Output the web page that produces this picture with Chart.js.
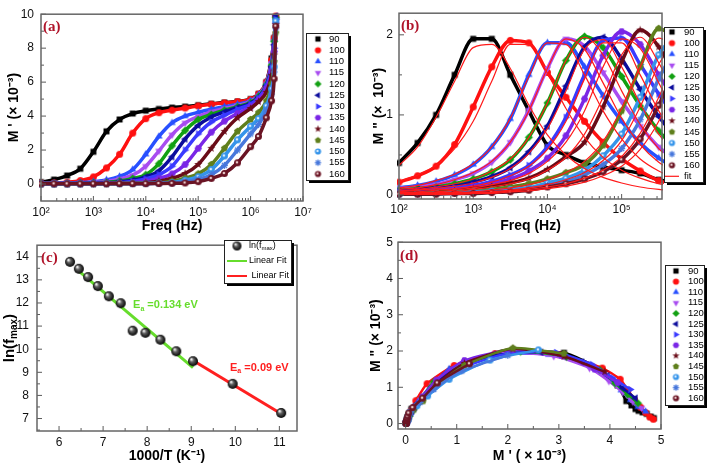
<!DOCTYPE html>
<html>
<head>
<meta charset="utf-8">
<script src="https://cdn.jsdelivr.net/npm/chart.js@4.4.1/dist/chart.umd.min.js"></script>
<style>
  html, body { margin: 0; background: #fff; }
  #fig { position: relative; width: 709px; height: 465px; overflow: hidden; }
  canvas { position: absolute; }
</style>
</head>
<body>
<div id="fig">
  <canvas id="ca" width="355" height="240" style="left:0;top:0"></canvas>
  <canvas id="cb" width="354" height="240" style="left:355px;top:0"></canvas>
  <canvas id="cc" width="355" height="235" style="left:0;top:230px"></canvas>
  <canvas id="cd" width="354" height="235" style="left:355px;top:230px"></canvas>
</div>
<script>
const FONT = '"Liberation Sans", Arial, sans-serif';

// temperatures (legend labels)
const temps = ['90', '100', '110', '115', '120', '125', '130', '135', '140', '145', '150', '155', '160'];

// measuring frequencies (Hz)
const freqs = [100, 178, 316, 562, 1000, 1778, 3162, 5623, 10000, 17783, 31623, 56234,
  100000, 177828, 316228, 562341, 1000000, 1412538, 1995262, 2511886, 2818383, 3019952];

// M' (x10^-3), one value per frequency
const mp90  = [0.11, 0.26, 0.5, 0.9, 1.9, 3.1, 3.8, 4.15, 4.32, 4.42, 4.5, 4.56, 4.64, 4.72, 4.8, 4.86, 5.0, 5.3, 6.0, 7.4, 8.6, 9.8];
const mp100 = [0.05, 0.07, 0.11, 0.2, 0.42, 0.95, 1.75, 3.0, 3.85, 4.2, 4.35, 4.48, 4.6, 4.7, 4.78, 4.85, 4.98, 5.3, 6.0, 7.3, 8.6, 9.9];
const mp110 = [0.04, 0.05, 0.06, 0.09, 0.14, 0.24, 0.45, 0.85, 1.75, 2.8, 3.6, 4.0, 4.22, 4.4, 4.55, 4.7, 4.9, 5.25, 5.95, 7.2, 8.5, 9.8];
const mp115 = [0.03, 0.04, 0.05, 0.07, 0.1, 0.17, 0.3, 0.52, 1.05, 1.95, 2.9, 3.6, 3.98, 4.25, 4.45, 4.62, 4.85, 5.2, 5.9, 7.1, 8.4, 9.7];
const mp120 = [0.03, 0.03, 0.04, 0.05, 0.07, 0.1, 0.18, 0.33, 0.55, 1.2, 2.25, 3.15, 3.8, 4.1, 4.35, 4.55, 4.8, 5.15, 5.85, 7.0, 8.4, 9.8];
const mp125 = [0.02, 0.03, 0.03, 0.04, 0.05, 0.07, 0.12, 0.22, 0.42, 0.78, 1.6, 2.65, 3.45, 3.95, 4.25, 4.5, 4.75, 5.1, 5.8, 6.9, 8.2, 9.9];
const mp130 = [0.02, 0.02, 0.03, 0.03, 0.04, 0.05, 0.08, 0.15, 0.3, 0.55, 1.05, 2.0, 2.95, 3.65, 4.05, 4.4, 4.7, 5.05, 5.75, 6.8, 8.0, 9.7];
const mp135 = [0.02, 0.02, 0.02, 0.03, 0.03, 0.04, 0.05, 0.08, 0.17, 0.33, 0.6, 1.15, 2.1, 3.05, 3.7, 4.15, 4.55, 4.95, 5.6, 6.6, 7.8, 9.5];
const mp140 = [0.01, 0.01, 0.02, 0.02, 0.02, 0.03, 0.04, 0.05, 0.08, 0.17, 0.34, 0.62, 1.15, 2.1, 3.1, 3.9, 4.45, 4.85, 5.4, 6.4, 7.6, 9.4];
const mp145 = [0.01, 0.01, 0.01, 0.02, 0.02, 0.02, 0.03, 0.03, 0.04, 0.06, 0.16, 0.34, 0.6, 1.15, 2.1, 3.1, 3.8, 4.2, 4.9, 5.9, 7.2, 8.9];
const mp150 = [0.01, 0.01, 0.01, 0.01, 0.02, 0.02, 0.02, 0.03, 0.03, 0.05, 0.08, 0.22, 0.43, 0.85, 1.65, 2.6, 3.4, 3.85, 4.6, 5.6, 6.9, 9.6];
const mp155 = [0.01, 0.01, 0.01, 0.01, 0.01, 0.02, 0.02, 0.02, 0.03, 0.04, 0.06, 0.12, 0.28, 0.55, 1.1, 2.0, 2.95, 3.5, 4.3, 5.3, 6.6, 9.2];
const mp160 = [0.01, 0.01, 0.01, 0.01, 0.01, 0.01, 0.02, 0.02, 0.02, 0.03, 0.04, 0.06, 0.14, 0.33, 0.62, 1.25, 2.2, 2.8, 3.9, 4.9, 6.2, 9.3];

// M'' (x10^-3), first 16 frequencies (up to 5.6e5 Hz)
const mpp90  = [0.40, 0.65, 1.0, 1.5, 1.95, 1.95, 1.5, 1.05, 0.62, 0.5, 0.4, 0.35, 0.31, 0.27, 0.19, 0.15];
const mpp100 = [0.16, 0.24, 0.36, 0.63, 1.1, 1.6, 1.93, 1.9, 1.53, 1.22, 0.92, 0.66, 0.45, 0.3, 0.18, 0.12];
const mpp110 = [0.09, 0.12, 0.17, 0.25, 0.38, 0.6, 0.95, 1.5, 1.9, 1.9, 1.6, 1.24, 0.92, 0.65, 0.46, 0.33];
const mpp115 = [0.08, 0.1, 0.13, 0.19, 0.27, 0.41, 0.66, 1.06, 1.58, 1.95, 1.86, 1.53, 1.17, 0.86, 0.6, 0.43];
const mpp120 = [0.06, 0.08, 0.1, 0.14, 0.2, 0.29, 0.44, 0.72, 1.15, 1.68, 1.98, 1.84, 1.48, 1.11, 0.8, 0.56];
const mpp125 = [0.05, 0.07, 0.09, 0.11, 0.16, 0.23, 0.34, 0.54, 0.86, 1.36, 1.85, 1.97, 1.7, 1.32, 0.98, 0.7];
const mpp130 = [0.04, 0.05, 0.07, 0.09, 0.12, 0.17, 0.25, 0.37, 0.6, 0.97, 1.5, 1.93, 1.96, 1.63, 1.26, 0.94];
const mpp135 = [0.03, 0.04, 0.06, 0.07, 0.1, 0.14, 0.2, 0.3, 0.46, 0.74, 1.2, 1.74, 2.04, 1.88, 1.5, 1.13];
const mpp140 = [0.02, 0.03, 0.04, 0.05, 0.08, 0.11, 0.15, 0.21, 0.32, 0.48, 0.66, 1.1, 1.66, 2.06, 1.85, 1.43];
const mpp145 = [0.02, 0.02, 0.03, 0.04, 0.05, 0.07, 0.1, 0.14, 0.2, 0.28, 0.38, 0.62, 1.05, 1.6, 2.08, 1.93];
const mpp150 = [0.01, 0.02, 0.02, 0.03, 0.04, 0.05, 0.07, 0.09, 0.15, 0.21, 0.31, 0.49, 0.76, 1.22, 1.75, 2.03];
const mpp155 = [0.01, 0.01, 0.02, 0.02, 0.03, 0.04, 0.05, 0.08, 0.12, 0.17, 0.25, 0.38, 0.58, 0.94, 1.45, 1.88];
const mpp160 = [0.01, 0.01, 0.01, 0.02, 0.02, 0.03, 0.04, 0.06, 0.1, 0.14, 0.2, 0.29, 0.44, 0.7, 1.12, 1.65];

// fitted M'' curves, same 16 frequencies
const fit90  = [0.37, 0.6, 0.97, 1.42, 1.84, 1.88, 1.58, 1.12, 0.75, 0.5, 0.33, 0.22, 0.15, 0.1, 0.07, 0.05];
const fit100 = [0.17, 0.25, 0.37, 0.58, 0.92, 1.42, 1.88, 1.88, 1.52, 1.08, 0.72, 0.47, 0.31, 0.21, 0.14, 0.1];
const fit110 = [0.09, 0.12, 0.18, 0.26, 0.39, 0.6, 0.96, 1.48, 1.9, 1.88, 1.5, 1.05, 0.7, 0.45, 0.3, 0.2];
const fit115 = [0.07, 0.09, 0.13, 0.19, 0.28, 0.42, 0.66, 1.05, 1.58, 1.95, 1.82, 1.4, 0.96, 0.63, 0.41, 0.27];
const fit120 = [0.05, 0.07, 0.1, 0.14, 0.2, 0.3, 0.45, 0.72, 1.15, 1.68, 1.97, 1.75, 1.3, 0.88, 0.58, 0.38];
const fit125 = [0.04, 0.06, 0.08, 0.11, 0.15, 0.22, 0.33, 0.52, 0.83, 1.3, 1.82, 1.94, 1.6, 1.14, 0.76, 0.5];
const fit130 = [0.03, 0.04, 0.06, 0.08, 0.11, 0.16, 0.24, 0.36, 0.57, 0.92, 1.45, 1.9, 1.9, 1.5, 1.05, 0.7];
const fit135 = [0.02, 0.03, 0.04, 0.06, 0.09, 0.13, 0.18, 0.27, 0.42, 0.66, 1.05, 1.6, 1.95, 1.83, 1.4, 0.96];
const fit140 = [0.02, 0.02, 0.03, 0.04, 0.07, 0.1, 0.14, 0.2, 0.31, 0.47, 0.76, 1.22, 1.75, 1.97, 1.65, 1.2];
const fit145 = [0.01, 0.01, 0.02, 0.03, 0.04, 0.06, 0.09, 0.13, 0.19, 0.28, 0.42, 0.67, 1.08, 1.6, 1.96, 1.82];
const fit150 = [0.01, 0.01, 0.01, 0.02, 0.03, 0.04, 0.06, 0.09, 0.13, 0.19, 0.28, 0.43, 0.68, 1.1, 1.63, 1.96];
const fit155 = [0.01, 0.01, 0.01, 0.01, 0.02, 0.03, 0.05, 0.07, 0.1, 0.14, 0.21, 0.31, 0.48, 0.77, 1.22, 1.75];
const fit160 = [0.01, 0.01, 0.01, 0.01, 0.02, 0.02, 0.04, 0.05, 0.08, 0.11, 0.16, 0.24, 0.36, 0.57, 0.92, 1.45];

// panel (c): relaxation peak positions
const invT   = [6.25, 6.45, 6.66, 6.88, 7.13, 7.4, 7.67, 7.96, 8.3, 8.66, 9.04, 9.94, 11.04];
const lnFmax = [13.78, 13.48, 13.12, 12.73, 12.29, 11.99, 10.8, 10.71, 10.41, 9.91, 9.48, 8.5, 7.24];
const fitHighX = [6.43, 9.04];
const fitHighY = [13.41, 9.2];
const fitLowX  = [9.04, 11.04];
const fitLowY  = [9.51, 7.21];

// tick values and labels
const freqTicksA = [1e2, 1e3, 1e4, 1e5, 1e6, 1e7];
const freqLabelsA = ['10²', '10³', '10⁴', '10⁵', '10⁶', '10⁷'];
const freqTicksB = [1e2, 1e3, 1e4, 1e5];
const freqLabelsB = ['10²', '10³', '10⁴', '10⁵'];
const yTicksA = [0, 2, 4, 6, 8, 10];
const yTicksB = [0, 1, 2];
const xTicksC = [6, 7, 8, 9, 10, 11];
const yTicksC = [7, 8, 9, 10, 11, 12, 13, 14];
const ticksD = [0, 1, 2, 3, 4, 5];

const mpAll  = [mp90, mp100, mp110, mp115, mp120, mp125, mp130, mp135, mp140, mp145, mp150, mp155, mp160];
const mppAll = [mpp90, mpp100, mpp110, mpp115, mpp120, mpp125, mpp130, mpp135, mpp140, mpp145, mpp150, mpp155, mpp160];
const fitAll = [fit90, fit100, fit110, fit115, fit120, fit125, fit130, fit135, fit140, fit145, fit150, fit155, fit160];

const seriesStyle = [
  { color: '#000000', shape: 'square' },
  { color: '#ff1010', shape: 'circle' },
  { color: '#2850ff', shape: 'triUp' },
  { color: '#a84cf0', shape: 'triDown' },
  { color: '#12a012', shape: 'diamond' },
  { color: '#0c0c9c', shape: 'triLeft' },
  { color: '#3a3aff', shape: 'triRight' },
  { color: '#7a26e6', shape: 'hex' },
  { color: '#6a0c18', shape: 'star' },
  { color: '#5f7f1c', shape: 'pentagon' },
  { color: '#3594ea', shape: 'ring' },
  { color: '#4878dc', shape: 'asterisk' },
  { color: '#6a1424', shape: 'ringDark' }
];

// ---------- marker images ----------
function drawMarker(ctx, shape, color, x, y, r) {
  ctx.save();
  ctx.fillStyle = color;
  ctx.strokeStyle = color;
  const poly = (pts) => {
    ctx.beginPath();
    pts.forEach(([px, py], i) => i ? ctx.lineTo(x + px, y + py) : ctx.moveTo(x + px, y + py));
    ctx.closePath();
    ctx.fill();
  };
  const ngon = (n, rot, rad) => {
    const p = [];
    for (let i = 0; i < n; i++) {
      const a = rot + i * 2 * Math.PI / n;
      p.push([rad * Math.cos(a), rad * Math.sin(a)]);
    }
    poly(p);
  };
  switch (shape) {
    case 'square': ctx.fillRect(x - r * 0.85, y - r * 0.85, r * 1.7, r * 1.7); break;
    case 'circle': ctx.beginPath(); ctx.arc(x, y, r, 0, 2 * Math.PI); ctx.fill(); break;
    case 'triUp': ngon(3, -Math.PI / 2, r * 1.2); break;
    case 'triDown': ngon(3, Math.PI / 2, r * 1.2); break;
    case 'triLeft': ngon(3, Math.PI, r * 1.2); break;
    case 'triRight': ngon(3, 0, r * 1.2); break;
    case 'diamond': ngon(4, 0, r * 1.15); break;
    case 'hex': ngon(6, 0, r * 1.05); break;
    case 'pentagon': ngon(5, -Math.PI / 2, r * 1.05); break;
    case 'star': {
      const p = [];
      for (let i = 0; i < 10; i++) {
        const a = -Math.PI / 2 + i * Math.PI / 5;
        const rr = i % 2 ? r * 0.5 : r * 1.2;
        p.push([rr * Math.cos(a), rr * Math.sin(a)]);
      }
      poly(p);
      break;
    }
    case 'ring':
    case 'ringDark':
      ctx.beginPath(); ctx.arc(x, y, r, 0, 2 * Math.PI); ctx.fill();
      ctx.fillStyle = shape === 'ring' ? '#d8ecff' : '#e6c6c6';
      ctx.beginPath(); ctx.arc(x - r * 0.15, y - r * 0.15, r * 0.38, 0, 2 * Math.PI); ctx.fill();
      break;
    case 'asterisk':
      ctx.lineWidth = 1.3;
      for (let k = 0; k < 4; k++) {
        const a = k * Math.PI / 4;
        ctx.beginPath();
        ctx.moveTo(x - r * Math.cos(a), y - r * Math.sin(a));
        ctx.lineTo(x + r * Math.cos(a), y + r * Math.sin(a));
        ctx.stroke();
      }
      break;
  }
  ctx.restore();
}

function makeMarker(shape, color, r) {
  const c = document.createElement('canvas');
  const s = Math.ceil(2 * r + 4);
  c.width = s; c.height = s;
  drawMarker(c.getContext('2d'), shape, color, s / 2, s / 2, r);
  return c;
}

function makeSphere(r) {
  const c = document.createElement('canvas');
  const s = Math.ceil(2 * r + 2);
  c.width = s; c.height = s;
  const g = c.getContext('2d');
  const grad = g.createRadialGradient(s / 2 - r * 0.35, s / 2 - r * 0.4, r * 0.1, s / 2, s / 2, r);
  grad.addColorStop(0, '#f0f0f0');
  grad.addColorStop(0.35, '#606060');
  grad.addColorStop(1, '#000000');
  g.fillStyle = grad;
  g.beginPath(); g.arc(s / 2, s / 2, r, 0, 2 * Math.PI); g.fill();
  return c;
}

const markers = seriesStyle.map(s => makeMarker(s.shape, s.color, 3.5));
const legendMarkers = seriesStyle.map(s => makeMarker(s.shape, s.color, 3.1));
const sphere = makeSphere(5);

// ---------- text with subscripts: "ln(f_{max})" ----------
function richParts(text) {
  const parts = [];
  const re = /_\{([^}]*)\}/g;
  let last = 0, m;
  while ((m = re.exec(text))) {
    if (m.index > last) parts.push({ t: text.slice(last, m.index), sub: false });
    parts.push({ t: m[1], sub: true });
    last = re.lastIndex;
  }
  if (last < text.length) parts.push({ t: text.slice(last), sub: false });
  return parts;
}

function drawRich(ctx, text, x, y, size, weight, align) {
  const parts = richParts(text);
  const fontFor = p => `${weight} ${p.sub ? Math.round(size * 0.68) : size}px ${FONT}`;
  let total = 0;
  parts.forEach(p => { ctx.font = fontFor(p); p.w = ctx.measureText(p.t).width; total += p.w; });
  let cx = align === 'center' ? x - total / 2 : x;
  ctx.textBaseline = 'middle';
  ctx.textAlign = 'left';
  parts.forEach(p => {
    ctx.font = fontFor(p);
    ctx.fillText(p.t, cx, p.sub ? y + size * 0.3 : y);
    cx += p.w;
  });
}

// ---------- plugins ----------
function minorValues(scale) {
  const out = [];
  const ticks = scale.ticks.map(t => t.value);
  if (scale.type === 'logarithmic') {
    const lo = Math.floor(Math.log10(scale.min)), hi = Math.ceil(Math.log10(scale.max));
    for (let d = lo; d <= hi; d++) {
      for (let k = 2; k <= 9; k++) {
        const v = k * Math.pow(10, d);
        if (v > scale.min && v < scale.max) out.push(v);
      }
    }
  } else if (ticks.length > 1) {
    const step = ticks[1] - ticks[0];
    for (let v = ticks[0] - step / 2; v < scale.max; v += step) {
      if (v > scale.min) out.push(v);
    }
  }
  return out;
}

const framePlugin = {
  id: 'frame',
  afterDatasetsDraw(chart, args, o) {
    const { ctx, chartArea: a, scales } = chart;
    const xs = scales.x, ys = scales.y;
    ctx.save();
    const line = (x1, y1, x2, y2) => { ctx.beginPath(); ctx.moveTo(x1, y1); ctx.lineTo(x2, y2); ctx.stroke(); };
    ctx.strokeStyle = '#5a5a5a';
    ctx.lineWidth = 1;
    xs.ticks.forEach(t => { const p = xs.getPixelForValue(t.value); line(p, a.bottom, p, a.bottom - 5); });
    ys.ticks.forEach(t => { const p = ys.getPixelForValue(t.value); line(a.left, p, a.left + 5, p); });
    minorValues(xs).forEach(v => { const p = xs.getPixelForValue(v); line(p, a.bottom, p, a.bottom - 3); });
    minorValues(ys).forEach(v => { const p = ys.getPixelForValue(v); line(a.left, p, a.left + 3, p); });
    ctx.strokeStyle = '#666';
    ctx.lineWidth = 1.5;
    ctx.strokeRect(a.left, a.top, a.right - a.left, a.bottom - a.top);

    ctx.fillStyle = '#b0142a';
    ctx.font = 'bold 15px "Liberation Serif", "DejaVu Serif", serif';
    ctx.textBaseline = 'top';
    ctx.textAlign = 'left';
    ctx.fillText(o.letter, a.left + o.letterDX, a.top + o.letterDY);

    (o.notes || []).forEach(n => {
      ctx.fillStyle = n.color;
      drawRich(ctx, n.text, xs.getPixelForValue(n.x), ys.getPixelForValue(n.y), 11, 'bold', 'left');
    });
    if (o.yTitle) {
      ctx.fillStyle = '#000';
      ctx.translate(o.yTitleX, (a.top + a.bottom) / 2);
      ctx.rotate(-Math.PI / 2);
      drawRich(ctx, o.yTitle, 0, 0, 15, 'bold', 'center');
    }
    ctx.restore();
  }
};

const legendPlugin = {
  id: 'boxLegend',
  afterDraw(chart, args, o) {
    if (!o || o.x === undefined) return;
    const ctx = chart.ctx;
    ctx.save();
    ctx.fillStyle = '#000';
    ctx.fillRect(o.x + 3, o.y + 3, o.w, o.h);
    ctx.fillStyle = '#fff';
    ctx.fillRect(o.x, o.y, o.w, o.h);
    ctx.strokeStyle = '#222';
    ctx.lineWidth = 1;
    ctx.strokeRect(o.x + 0.5, o.y + 0.5, o.w, o.h);
    let row = 0;
    chart.data.datasets.forEach(ds => {
      if (ds.legendText === undefined) return;
      const y = o.firstY + row * o.rowH;
      if (ds.legendImage) {
        const im = ds.legendImage;
        ctx.drawImage(im, o.markerX - im.width / 2, y - im.height / 2);
      } else {
        ctx.strokeStyle = ds.borderColor;
        ctx.lineWidth = Math.min(ds.borderWidth, 2);
        ctx.beginPath();
        ctx.moveTo(o.markerX - o.lineHalf, y);
        ctx.lineTo(o.markerX + o.lineHalf, y);
        ctx.stroke();
      }
      ctx.fillStyle = '#000';
      drawRich(ctx, ds.legendText, o.textX, y, o.fontSize, 'normal', 'left');
      row++;
    });
    ctx.restore();
  }
};

// ---------- chart helpers ----------
function axis(c, dir) {
  return {
    type: c.type || 'linear',
    min: c.min,
    max: c.max,
    grid: { display: false, drawTicks: false },
    border: { display: false },
    afterBuildTicks: s => { s.ticks = c.ticks.map(v => ({ value: v })); },
    afterFit: s => { if (dir === 'x') s.height = c.size; else s.width = c.size; },
    ticks: {
      autoSkip: false, maxRotation: 0, minRotation: 0, padding: c.pad, color: '#111',
      font: { family: FONT, size: 12 },
      callback: v => { const k = c.ticks.indexOf(v); return k >= 0 ? c.labels[k] : ''; }
    },
    title: {
      display: !!c.title, text: c.title, color: '#000',
      font: { family: FONT, size: 14, weight: 'bold' }, padding: c.titlePad || 0
    }
  };
}

function makeChart(id, type, datasets, cfg) {
  return new Chart(document.getElementById(id), {
    type: type,
    data: { datasets: datasets },
    options: {
      responsive: false,
      animation: false,
      events: [],
      layout: { autoPadding: false, padding: cfg.padding },
      plugins: {
        legend: { display: false },
        tooltip: { enabled: false },
        frame: cfg.frame,
        boxLegend: cfg.legend
      },
      scales: { x: axis(cfg.x, 'x'), y: axis(cfg.y, 'y') }
    },
    plugins: [framePlugin, legendPlugin]
  });
}

function seriesDataset(i, points, width) {
  return {
    label: temps[i],
    legendText: temps[i],
    legendImage: legendMarkers[i],
    data: points,
    borderColor: seriesStyle[i].color,
    backgroundColor: seriesStyle[i].color,
    borderWidth: width,
    pointStyle: markers[i],
    pointRadius: 3.5,
    cubicInterpolationMode: 'monotone',
    order: temps.length - i + 1,
    clip: 2
  };
}

// ---------- (a) M' vs frequency ----------
const dsA = temps.map((t, i) => seriesDataset(i, freqs.map((f, k) => ({ x: f, y: mpAll[i][k] })), 3.5));
makeChart('ca', 'line', dsA, {
  padding: { left: 0, top: 5, right: 52, bottom: 0 },
  x: { type: 'logarithmic', min: 100, max: 1e7, ticks: freqTicksA, labels: freqLabelsA, size: 39, pad: 4,
       title: 'Freq (Hz)', titlePad: { top: 0, bottom: 5 } },
  y: { min: -1, max: 10, ticks: yTicksA, labels: yTicksA.map(String), size: 41, pad: 7,
       title: "M ' (× 10⁻³)", titlePad: { top: 6, bottom: 0 } },
  frame: { letter: '(a)', letterDX: 2, letterDY: 5 },
  legend: { x: 306, y: 33, w: 42, h: 147, firstY: 39, rowH: 11.25, markerX: 318, textX: 329, fontSize: 9.5 }
});

// ---------- (b) M'' vs frequency with fits ----------
const dsB = temps.map((t, i) => seriesDataset(i, mppAll[i].map((v, k) => ({ x: freqs[k], y: v })), 3.5));
temps.forEach((t, i) => {
  const ds = {
    label: 'fit ' + t,
    data: fitAll[i].map((v, k) => ({ x: freqs[k], y: v })),
    borderColor: '#ff1a1a',
    borderWidth: 1.2,
    pointRadius: 0,
    cubicInterpolationMode: 'monotone',
    order: 0,
    clip: 1
  };
  if (i === 0) ds.legendText = 'fit';
  dsB.push(ds);
});
makeChart('cb', 'line', dsB, {
  padding: { left: 0, top: 5, right: 47, bottom: 0 },
  x: { type: 'logarithmic', min: 100, max: 350000, ticks: freqTicksB, labels: freqLabelsB, size: 41, pad: 3,
       title: 'Freq (Hz)', titlePad: { top: 0, bottom: 5 } },
  y: { min: -0.05, max: 2.27, ticks: yTicksB, labels: yTicksB.map(String), size: 44, pad: 6,
       title: 'M " (×  10⁻³)', titlePad: { top: 16, bottom: 0 } },
  frame: { letter: '(b)', letterDX: 2, letterDY: 5 },
  legend: { x: 309, y: 27, w: 39, h: 155, firstY: 32, rowH: 11.1, markerX: 317, textX: 329, fontSize: 9.5, lineHalf: 7 }
});

// ---------- (c) ln(fmax) vs 1000/T ----------
const dsC = [
  {
    label: 'ln(fmax)', legendText: 'ln(f_{max})', legendImage: makeSphere(4.5),
    data: invT.map((v, k) => ({ x: v, y: lnFmax[k] })),
    showLine: false, pointStyle: sphere, pointRadius: 5, order: 0, clip: 4
  },
  {
    label: 'Linear Fit', legendText: 'Linear Fit',
    data: fitHighX.map((v, k) => ({ x: v, y: fitHighY[k] })),
    showLine: true, borderColor: '#66dd2c', borderWidth: 3, pointRadius: 0, order: 1
  },
  {
    label: 'Linear Fit', legendText: ' Linear Fit',
    data: fitLowX.map((v, k) => ({ x: v, y: fitLowY[k] })),
    showLine: true, borderColor: '#ff2020', borderWidth: 3, pointRadius: 0, order: 1
  }
];
makeChart('cc', 'scatter', dsC, {
  padding: { left: 0, top: 7, right: 58, bottom: 0 },
  x: { min: 5.5, max: 11.4, ticks: xTicksC, labels: xTicksC.map(String), size: 34, pad: 4,
       title: '1000/T (K⁻¹)', titlePad: { top: 0, bottom: 0 } },
  y: { min: 6.46, max: 14.5, ticks: yTicksC, labels: yTicksC.map(String), size: 37, pad: 8 },
  frame: {
    letter: '(c)', letterDX: 4, letterDY: 5, yTitle: 'ln(f_{max})', yTitleX: 10,
    notes: [
      { text: 'E_{a} =0.134 eV', x: 7.68, y: 11.9, color: '#66dd2c' },
      { text: 'E_{a} =0.09 eV', x: 9.88, y: 9.18, color: '#ff2020' }
    ]
  },
  legend: { x: 224, y: 10, w: 67, h: 43, firstY: 16, rowH: 15, markerX: 237, textX: 249, fontSize: 9, lineHalf: 10 }
});

// ---------- (d) M'' vs M' (same measurements as (a) and (b)) ----------
const dsD = temps.map((t, i) => {
  const ds = seriesDataset(i, mppAll[i].map((v, k) => ({ x: mpAll[i][k], y: v })), 2.5);
  ds.cubicInterpolationMode = 'default';
  ds.tension = 0.2;
  return ds;
});
makeChart('cd', 'line', dsD, {
  padding: { left: 0, top: 4, right: 48, bottom: 0 },
  x: { min: -0.15, max: 5, ticks: ticksD, labels: ticksD.map(String), size: 36, pad: 4,
       title: "M ' ( × 10⁻³)", titlePad: { top: 0, bottom: 0 } },
  y: { min: -0.15, max: 5, ticks: ticksD, labels: ticksD.map(String), size: 43, pad: 5,
       title: 'M " (× 10⁻³)', titlePad: { top: 13, bottom: 0 } },
  frame: { letter: '(d)', letterDX: 2, letterDY: 6 },
  legend: { x: 310, y: 35, w: 39, h: 140, firstY: 41, rowH: 10.6, markerX: 321, textX: 333, fontSize: 9.5 }
});
</script>
</body>
</html>
